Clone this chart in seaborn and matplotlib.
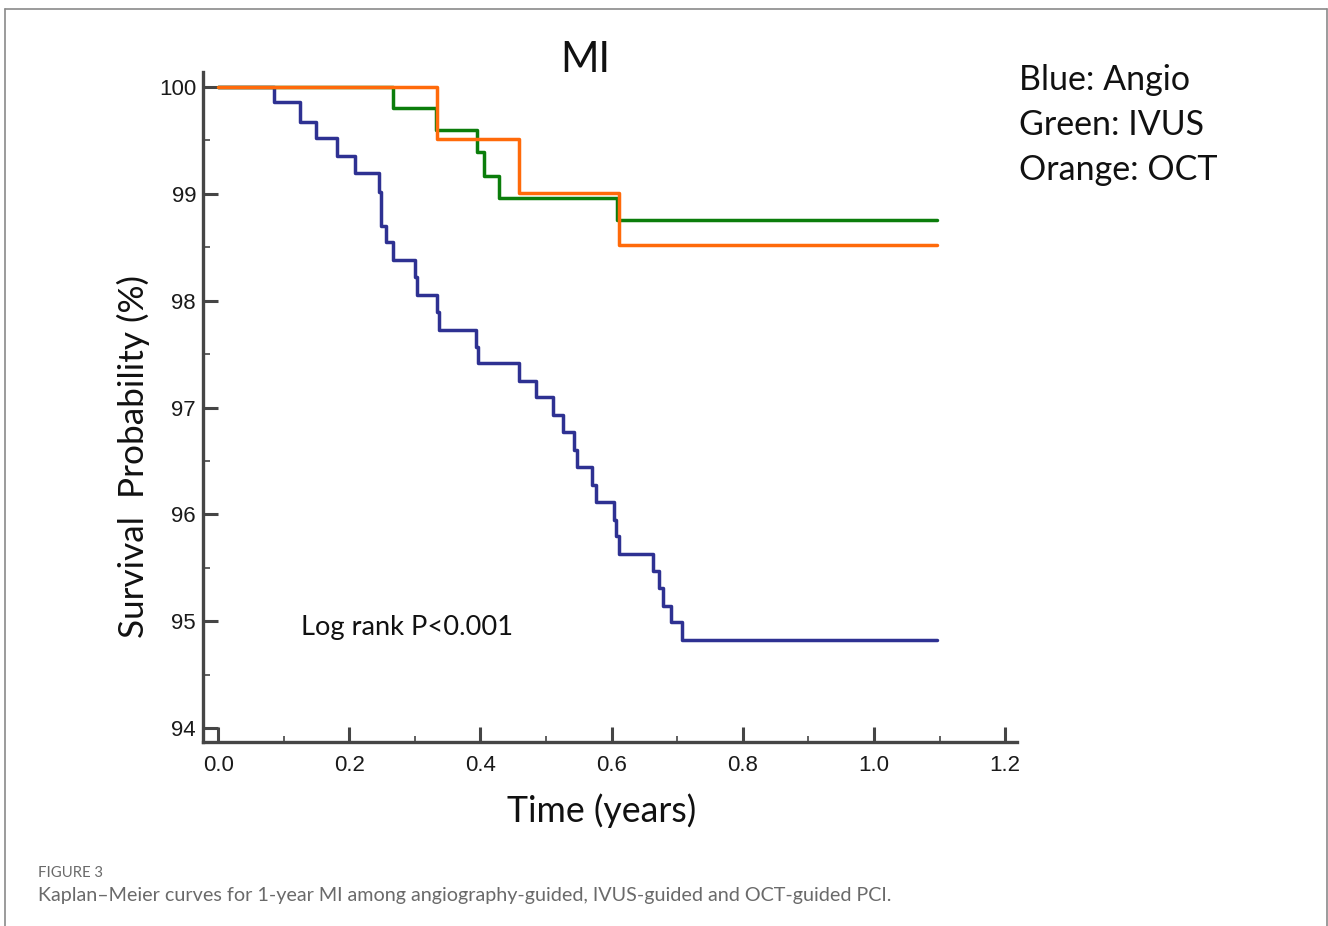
import numpy as np
import pandas as pd
import matplotlib
matplotlib.use("Agg")
import matplotlib.pyplot as plt
from matplotlib.lines import Line2D
from matplotlib.ticker import MultipleLocator
import seaborn as sns

# ── Data ──────────────────────────────────────────────────────────────────────

angio_t = [0.0, 0.085, 0.125, 0.150, 0.181, 0.209, 0.245, 0.248, 0.256, 0.266,
           0.300, 0.303, 0.334, 0.337, 0.393, 0.397, 0.459, 0.484, 0.511, 0.526,
           0.543, 0.548, 0.570, 0.576, 0.604, 0.606, 0.611, 0.663, 0.673, 0.679,
           0.691, 0.707, 1.096]
angio_s = [100.0, 99.857, 99.675, 99.52, 99.354, 99.198, 99.02, 98.70, 98.545, 98.38,
           98.224, 98.05, 97.896, 97.73, 97.57, 97.42, 97.247, 97.10, 96.93, 96.77,
           96.60, 96.44, 96.27, 96.117, 95.946, 95.796, 95.627, 95.468, 95.31, 95.14,
           94.99, 94.82, 94.82]

ivus_t = [0.0, 0.266, 0.333, 0.395, 0.406, 0.428, 0.609, 1.096]
ivus_s = [100.0, 99.80, 99.597, 99.394, 99.167, 98.96, 98.755, 98.755]

oct_t = [0.0, 0.334, 0.459, 0.612, 1.096]
oct_s = [100.0, 99.51, 99.01, 98.52, 98.52]

groups = ["Angio", "IVUS", "OCT"]
colors = {"Angio": "#2E3192", "IVUS": "#0B7D0B", "OCT": "#FF6A0A"}

x_ticks = [0.0, 0.2, 0.4, 0.6, 0.8, 1.0, 1.2]
y_ticks = [94, 95, 96, 97, 98, 99, 100]

df = pd.concat([
    pd.DataFrame({"time": angio_t, "surv": angio_s, "group": "Angio"}),
    pd.DataFrame({"time": ivus_t, "surv": ivus_s, "group": "IVUS"}),
    pd.DataFrame({"time": oct_t, "surv": oct_s, "group": "OCT"}),
], ignore_index=True)

# ── Style ─────────────────────────────────────────────────────────────────────

sns.set_style("white")
plt.rcParams["font.family"] = ["Liberation Sans", "DejaVu Sans"]
txt_font = ["Lato", "DejaVu Sans"]
axis_col = "#454545"

fig = plt.figure(figsize=(13.28, 9.26), dpi=100)
ax = fig.add_axes([0.1529, 0.1987, 0.613, 0.7235])

sns.lineplot(data=df, x="time", y="surv", hue="group", hue_order=groups,
             palette=colors, estimator=None, sort=False, drawstyle="steps-post",
             linewidth=2.5, legend=False, ax=ax)

ax.set_xlim(-0.0229, 1.2183)
ax.set_ylim(93.869, 100.14)
ax.set_xticks(x_ticks)
ax.set_xticklabels([f"{v:.1f}" for v in x_ticks])
ax.set_yticks(y_ticks)
ax.set_yticklabels([str(v) for v in y_ticks])
ax.xaxis.set_minor_locator(MultipleLocator(0.1))
ax.yaxis.set_minor_locator(MultipleLocator(0.5))

sns.despine(ax=ax)
for side in ["left", "bottom"]:
    ax.spines[side].set_color(axis_col)
    ax.spines[side].set_linewidth(2.4)

ax.tick_params(axis="both", which="both", bottom=True, left=True)
ax.tick_params(axis="both", which="major", direction="in", length=11, width=2.2,
               color=axis_col, labelsize=16, labelcolor="#1a1a1a", pad=5)
ax.tick_params(axis="x", which="minor", direction="in", length=4, width=1.2,
               color=axis_col)
ax.tick_params(axis="y", which="minor", direction="in", length=5, width=1.2,
               color=axis_col)
ax.tick_params(axis="x", which="major", pad=9)
ax.set_xlabel("")
ax.set_ylabel("")

# ── Texts ─────────────────────────────────────────────────────────────────────

W, H = 1328, 926


def fx(px):
    return px / W


def fy(py):
    return 1 - py / H


fig.text(fx(585), fy(60), "MI", family=txt_font, fontsize=30,
         ha="center", va="center", color="#111")
for i, line in enumerate(["Blue: Angio", "Green: IVUS", "Orange: OCT"]):
    fig.text(fx(1019), fy(80 + 45 * i), line, family=txt_font, fontsize=24.5,
             ha="left", va="center", color="#111")
fig.text(fx(133), fy(457), "Survival  Probability (%)", family=txt_font,
         fontsize=25.3, rotation=90, ha="center", va="center", color="#111")
fig.text(fx(602), fy(811), "Time (years)", family=txt_font, fontsize=25.7,
         ha="center", va="center", color="#111")
fig.text(fx(301), fy(627), "Log rank P<0.001", family=txt_font, fontsize=19.6,
         ha="left", va="center", color="#111")

fig.text(fx(38), fy(873), "FIGURE 3", family=txt_font, fontsize=10.7,
         ha="left", va="center", color="#6a6a6a")
fig.text(fx(38), fy(896),
         "Kaplan\u2013Meier curves for 1-year MI among angiography-guided, "
         "IVUS-guided and OCT-guided PCI.",
         family=txt_font, fontsize=14.2, ha="left", va="center", color="#6a6a6a")

# outer frame (open at the bottom)
frame_kw = dict(color="#8a8a8a", linewidth=1.2, transform=fig.transFigure)
fig.add_artist(Line2D([fx(4.5), fx(4.5)], [0, fy(9)], **frame_kw))
fig.add_artist(Line2D([fx(4.5), fx(1326.5)], [fy(9), fy(9)], **frame_kw))
fig.add_artist(Line2D([fx(1326.5), fx(1326.5)], [0, fy(9)], **frame_kw))

fig.savefig("out.png", dpi=100)
plt.close(fig)
